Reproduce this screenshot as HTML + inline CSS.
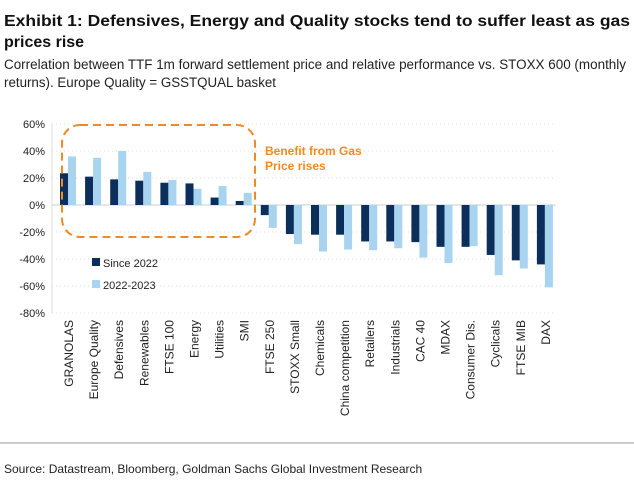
<!DOCTYPE html>
<html><head><meta charset="utf-8"><style>
body{margin:0;background:#fff;width:634px;height:488px;overflow:hidden}
svg{display:block;font-family:"Liberation Sans",sans-serif}
</style></head><body>
<svg id="c" width="634" height="488">
<text x="4" y="26" font-size="16" font-weight="bold" fill="#111" textLength="626" lengthAdjust="spacingAndGlyphs">Exhibit 1: Defensives, Energy and Quality stocks tend to suffer least as gas</text>
<text x="4" y="47" font-size="16" font-weight="bold" fill="#111">prices rise</text>
<text x="4" y="69" font-size="13.5" fill="#222" textLength="622" lengthAdjust="spacingAndGlyphs">Correlation between TTF 1m forward settlement price and relative performance vs. STOXX 600 (monthly</text>
<text x="4" y="87" font-size="13.5" fill="#222" textLength="272" lengthAdjust="spacingAndGlyphs">returns). Europe Quality = GSSTQUAL basket</text>
<g id="grid"></g><g id="bars"></g><g id="labels"></g>
<rect x="62" y="125" width="193" height="112" rx="18" fill="none" stroke="#f08a24" stroke-width="2" stroke-dasharray="8,5"/>
<text x="265" y="155" font-size="12" font-weight="bold" fill="#f08a24">Benefit from Gas</text>
<text x="265" y="170" font-size="12" font-weight="bold" fill="#f08a24">Price rises</text>
<rect x="92" y="258" width="8" height="8" fill="#0b2f5a"/>
<text x="103" y="267" font-size="11" fill="#222">Since 2022</text>
<rect x="92" y="280" width="8" height="8" fill="#a9d4f0"/>
<text x="103" y="289" font-size="11" fill="#222">2022-2023</text>
<line x1="0" y1="443" x2="634" y2="443" stroke="#999" stroke-width="1"/>
<text x="4" y="473" font-size="12" fill="#222">Source: Datastream, Bloomberg, Goldman Sachs Global Investment Research</text>
</svg>
<script>
const categories=["GRANOLAS","Europe Quality","Defensives","Renewables","FTSE 100","Energy","Utilities","SMI","FTSE 250","STOXX Small","Chemicals","China competition","Retailers","Industrials","CAC 40","MDAX","Consumer Dis.","Cyclicals","FTSE MIB","DAX"];
const since2022=[23.5,21,19,18,16.5,16,5.5,3,-7.5,-21.5,-22,-22,-27,-27,-27.5,-31,-31,-37,-41,-44];
const y2022_2023=[36,35,40,24.5,18.5,12,14,9,-17,-29,-34.5,-33,-33.5,-32,-39,-43,-30.5,-52,-47,-61];
const yTicks=[60,40,20,0,-20,-40,-60,-80];
const NS="http://www.w3.org/2000/svg";
const y0=205,k=27/20,left=52,right=556,band=25.1,bx0=56;
const Y=v=>y0-v*k, X=i=>bx0+i*band;
function mk(t,a,p){const e=document.createElementNS(NS,t);for(const q in a)e.setAttribute(q,a[q]);p.appendChild(e);return e;}
const g=document.getElementById('grid'),b=document.getElementById('bars'),l=document.getElementById('labels');
yTicks.forEach(v=>{
 const ln=mk('line',{x1:left,x2:right,y1:Y(v),y2:Y(v),stroke:v===0?'#ccc':'#ddd','stroke-dasharray':v===0?'':'1,3'},g);
 
 
 const t=mk('text',{x:45,y:Y(v)+4,'text-anchor':'end','font-size':11,fill:'#222'},g);
 t.textContent=v+'%';
 
 
});
mk('line',{x1:left,x2:left,y1:Y(60),y2:Y(-80),stroke:'#ddd'},g);
categories.forEach((c,i)=>{
 const x=X(i);
 const v1=since2022[i],v2=y2022_2023[i];
 const r1=mk('rect',{x:x+4,y:Math.min(Y(v1),y0),width:8,height:Math.abs(Y(v1)-y0),fill:'#0b2f5a'},b);
 
 
 const r2=mk('rect',{x:x+12,y:Math.min(Y(v2),y0),width:8,height:Math.abs(Y(v2)-y0),fill:'#a9d4f0'},b);
 
 
 const cx=x+12.5+4.5,ty=Y(-80)+7;
 const t=mk('text',{x:cx,y:ty,'text-anchor':'end','font-size':12,fill:'#222',transform:`rotate(-90 ${cx} ${ty})`},l);
 t.textContent=c;
 
 
});
</script>
</body></html>
